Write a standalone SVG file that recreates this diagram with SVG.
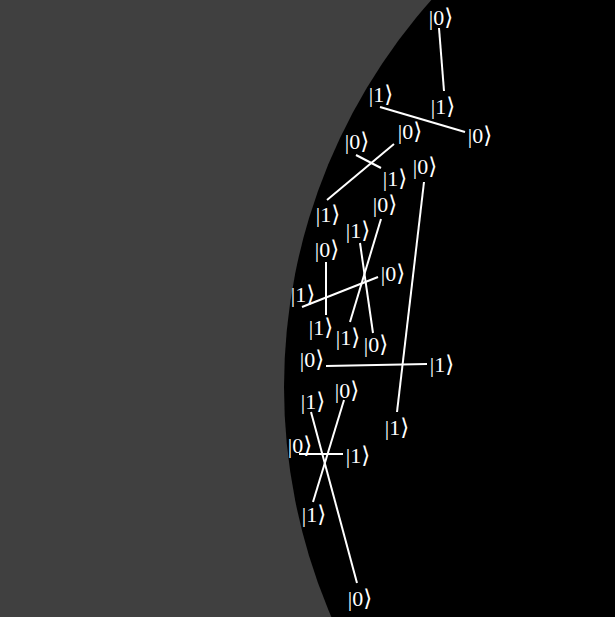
<svg xmlns="http://www.w3.org/2000/svg" width="615" height="617" viewBox="0 0 615 617">
<style>
.k{font-family:"Liberation Serif","DejaVu Serif",serif;font-size:22px;fill:#fff;text-anchor:middle}
.k tspan{font-family:"DejaVu Sans","Noto Sans",sans-serif;font-size:23px}
.c line{stroke:#fff;stroke-width:2;stroke-linecap:butt}
</style>
<rect x="0" y="0" width="615" height="617" fill="#404040"/>
<circle cx="866" cy="387" r="582" fill="#000"/>
<g class="c" id="connectors">
<line x1="439" y1="28" x2="444" y2="91"/>
<line x1="380" y1="107" x2="465" y2="132"/>
<line x1="356" y1="155" x2="381" y2="168"/>
<line x1="394" y1="144" x2="327" y2="200"/>
<line x1="424" y1="182" x2="397" y2="412"/>
<line x1="381" y1="219" x2="350" y2="322"/>
<line x1="360" y1="243" x2="373" y2="333"/>
<line x1="326" y1="262" x2="326" y2="315"/>
<line x1="302" y1="307" x2="378" y2="277"/>
<line x1="326" y1="366" x2="427" y2="364"/>
<line x1="299" y1="454" x2="343" y2="454"/>
<line x1="311" y1="412" x2="357" y2="583"/>
<line x1="344" y1="400" x2="313" y2="502"/>
</g>
<g id="n1"><text class="k" x="441" y="25">|0<tspan>⟩</tspan></text></g>
<g id="n2"><text class="k" x="443" y="114">|1<tspan>⟩</tspan></text></g>
<g id="n3"><text class="k" x="381" y="102">|1<tspan>⟩</tspan></text></g>
<g id="n4"><text class="k" x="480" y="143">|0<tspan>⟩</tspan></text></g>
<g id="n5"><text class="k" x="410" y="139">|0<tspan>⟩</tspan></text></g>
<g id="n6"><text class="k" x="357" y="149">|0<tspan>⟩</tspan></text></g>
<g id="n7"><text class="k" x="395" y="186">|1<tspan>⟩</tspan></text></g>
<g id="n8"><text class="k" x="328" y="222">|1<tspan>⟩</tspan></text></g>
<g id="n9"><text class="k" x="425" y="174">|0<tspan>⟩</tspan></text></g>
<g id="n10"><text class="k" x="397" y="435">|1<tspan>⟩</tspan></text></g>
<g id="n11"><text class="k" x="385" y="212">|0<tspan>⟩</tspan></text></g>
<g id="n12"><text class="k" x="358" y="238">|1<tspan>⟩</tspan></text></g>
<g id="n13"><text class="k" x="327" y="257">|0<tspan>⟩</tspan></text></g>
<g id="n14"><text class="k" x="303" y="302">|1<tspan>⟩</tspan></text></g>
<g id="n15"><text class="k" x="393" y="281">|0<tspan>⟩</tspan></text></g>
<g id="n16"><text class="k" x="321" y="335">|1<tspan>⟩</tspan></text></g>
<g id="n17"><text class="k" x="348" y="345">|1<tspan>⟩</tspan></text></g>
<g id="n18"><text class="k" x="376" y="352">|0<tspan>⟩</tspan></text></g>
<g id="n19"><text class="k" x="312" y="367">|0<tspan>⟩</tspan></text></g>
<g id="n20"><text class="k" x="442" y="372">|1<tspan>⟩</tspan></text></g>
<g id="n21"><text class="k" x="313" y="409">|1<tspan>⟩</tspan></text></g>
<g id="n22"><text class="k" x="347" y="398">|0<tspan>⟩</tspan></text></g>
<g id="n23"><text class="k" x="300" y="453">|0<tspan>⟩</tspan></text></g>
<g id="n24"><text class="k" x="358" y="463">|1<tspan>⟩</tspan></text></g>
<g id="n25"><text class="k" x="314" y="522">|1<tspan>⟩</tspan></text></g>
<g id="n26"><text class="k" x="360" y="606">|0<tspan>⟩</tspan></text></g>
</svg>
